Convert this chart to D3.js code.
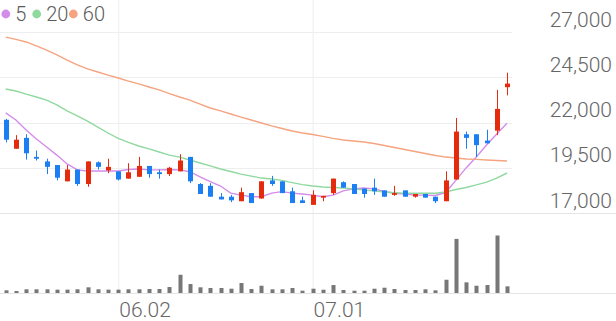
<!DOCTYPE html>
<html>
<head>
<meta charset="utf-8">
<script src="https://cdn.jsdelivr.net/npm/d3@7"></script>
<style>
  html, body { margin: 0; padding: 0; background: #fff; }
  svg { display: block; font-family: Roboto, "Noto Sans", sans-serif; }
</style>
</head>
<body>
<svg id="chart" width="616" height="321"></svg>
<script>
// trading days shown
var dates = ["05.16","05.19","05.20","05.21","05.22","05.23","05.26","05.27","05.28","05.29",
  "05.30","06.02","06.04","06.05","06.09","06.10","06.11","06.12","06.13","06.16",
  "06.17","06.18","06.19","06.20","06.23","06.24","06.25","06.26","06.27","06.30",
  "07.01","07.02","07.03","07.04","07.07","07.08","07.09","07.10","07.11","07.14",
  "07.15","07.16","07.17","07.18","07.21","07.22","07.23","07.24","07.25","07.28"];

var open  = [22150,20550,21150,20100,19850,19650,18750,19400,18600,19800,
  19350,19300,18900,19000,19600,19250,19150,19300,20100,18600,
  18500,17900,17900,17650,18100,17800,18800,18750,18200,17700,
  17450,17850,18100,18700,18600,18350,18400,18250,18000,18250,
  17900,18050,17900,17650,18850,21350,21350,21000,21550,23950];
var high  = [22200,21300,21350,20450,20000,19650,19650,19400,19850,19850,
  20000,19300,19750,20100,19600,19400,19550,20250,20100,18650,
  18650,18100,18000,18400,18100,18750,19050,18750,18400,17900,
  18250,17950,18900,18750,18600,18350,18900,18250,18500,18250,
  18050,18050,17900,19300,22250,21500,21350,21600,23800,24750];
var low   = [20900,20550,19950,19900,19150,18800,18750,18500,18450,19400,
  19200,18800,18900,19000,18950,18900,19050,19300,18650,18050,
  17900,17750,17600,17650,17550,17800,18500,18100,17550,17550,
  17450,17650,18000,18400,18050,17850,18000,17900,17950,17900,
  17850,17850,17550,17650,18850,20550,20100,20850,21300,23500];
var close = [21050,21050,20300,20000,19550,18950,19400,18600,19850,19550,
  19550,18850,19250,19600,19150,19150,19500,19900,18750,18050,
  17900,17750,17700,18150,17550,18750,18600,18100,17550,17550,
  18000,17950,18900,18400,18050,18050,18200,17900,18100,17900,
  18050,17850,17650,18800,21500,21150,20750,20850,22750,24150];

// volume, thousand shares
var volume = [54,40,74,74,74,67,67,74,114,74,
  67,67,74,74,80,80,120,366,180,114,
  100,100,86,200,80,146,74,74,100,46,
  86,66,160,60,46,46,86,106,80,60,
  60,74,54,266,1086,214,146,160,1154,134];

// moving averages
var ma5 = [22530,22140,21590,21090,20650,20200,19710,19380,19320,19320,
  19320,19320,19400,19430,19380,19380,19400,19380,19280,19000,
  18730,18490,18100,17990,17900,17900,18100,18180,18100,18050,
  17990,17900,17990,18220,18330,18380,18330,18190,18090,18050,
  17990,17990,17970,18130,18800,19490,20090,20760,21360,21960];
var ma20 = [23850,23740,23570,23410,23240,22970,22640,22360,22080,21750,
  21420,21120,20900,20700,20540,20370,20200,20090,19930,19760,
  19600,19430,19290,19150,19040,18930,18880,18800,18680,18570,
  18490,18440,18410,18380,18330,18270,18220,18160,18120,18090,
  18090,18090,18090,18160,18300,18410,18550,18710,18930,19210];
var ma60 = [26720,26590,26450,26230,26000,25730,25450,25180,24960,24790,
  24620,24460,24290,24130,23960,23800,23600,23410,23240,23020,
  22800,22640,22470,22300,22140,21970,21810,21670,21530,21420,
  21340,21230,21120,21030,20980,20920,20840,20730,20620,20510,
  20400,20290,20180,20090,20040,19980,19960,19930,19900,19870];

var priceTicks = [17000, 19500, 22000, 24500, 27000];
var dateTicks = ["06.02", "07.01"];
var maNames = ["5", "20", "60"];
var maColors = ["#d48ceb", "#8fd9a0", "#f5a47f"];

var UP = "#e52b0e", DOWN = "#1b7ef2";

var svg = d3.select("#chart");
var W = 616;
var plotRight = 512;

var x = d3.scalePoint().domain(dates).range([5.7, 507]);
var y = d3.scaleLinear().domain([17000, 27000]).range([213, 32]);
var yVol = d3.scaleLinear().domain([0, d3.max(volume)]).range([293, 235.5]);

// vertical grid at date ticks
svg.append("g").selectAll("line")
  .data(dateTicks)
  .enter().append("line")
  .attr("x1", function(d) { return x(d) + 0.5; })
  .attr("x2", function(d) { return x(d) + 0.5; })
  .attr("y1", 0).attr("y2", 293)
  .attr("stroke", "#eeeeee");

// horizontal grid
svg.append("g").selectAll("line")
  .data(priceTicks.slice(1))
  .enter().append("line")
  .attr("x1", 0).attr("x2", plotRight)
  .attr("y1", function(d) { return Math.round(y(d)) + 0.5; })
  .attr("y2", function(d) { return Math.round(y(d)) + 0.5; })
  .attr("stroke", "#eeeeee");

// panel separators
svg.append("line").attr("x1", 0).attr("x2", W)
  .attr("y1", Math.round(y(17000)) + 0.5).attr("y2", Math.round(y(17000)) + 0.5)
  .attr("stroke", "#e4e4e4");
svg.append("line").attr("x1", 0).attr("x2", W)
  .attr("y1", 293.5).attr("y2", 293.5)
  .attr("stroke", "#e4e4e4");

// right price axis
var yAxis = d3.axisRight(y).tickValues(priceTicks).tickFormat(d3.format(",")).tickSize(0);
var gy = svg.append("g").attr("transform", "translate(612,0)").call(yAxis);
gy.select(".domain").remove();
gy.selectAll("text")
  .attr("x", 0).attr("dy", "-0.28em")
  .attr("text-anchor", "end")
  .attr("fill", "#666").attr("font-size", 21).attr("font-weight", 300)
  .attr("font-family", "Roboto");

// bottom date labels, left aligned at the grid
var xAxis = d3.axisBottom(x).tickValues(dateTicks).tickSize(0);
var gx = svg.append("g").attr("transform", "translate(0,294)").call(xAxis);
gx.select(".domain").remove();
gx.selectAll("text")
  .attr("x", 0.5).attr("y", 0).attr("dy", "1.08em")
  .attr("text-anchor", "start")
  .attr("fill", "#666").attr("font-size", 21).attr("font-weight", 300)
  .attr("font-family", "Roboto");

// moving average lines
[ma5, ma20, ma60].forEach(function(series, k) {
  var line = d3.line()
    .x(function(d, i) { return x(dates[i]); })
    .y(function(d) { return y(d); });
  svg.append("path")
    .datum(series)
    .attr("d", line)
    .attr("fill", "none")
    .attr("stroke", maColors[k])
    .attr("stroke-width", 1.4);
});

// candles
var candles = svg.append("g").selectAll("g")
  .data(dates)
  .enter().append("g");

candles.append("line")
  .attr("x1", function(d) { return Math.round(x(d)) + 0.5; })
  .attr("x2", function(d) { return Math.round(x(d)) + 0.5; })
  .attr("y1", function(d, i) { return y(high[i]); })
  .attr("y2", function(d, i) { return y(low[i]); })
  .attr("stroke", function(d, i) { return close[i] >= open[i] ? UP : DOWN; })
  .attr("stroke-width", 1);

candles.append("rect")
  .attr("x", function(d) { return Math.round(x(d)) + 0.5 - 2.5; })
  .attr("width", 5)
  .attr("y", function(d, i) { return y(Math.max(open[i], close[i])); })
  .attr("height", function(d, i) {
    return Math.max(1.5, Math.abs(y(open[i]) - y(close[i])));
  })
  .attr("fill", function(d, i) { return close[i] >= open[i] ? UP : DOWN; });

// volume bars
svg.append("g").selectAll("rect")
  .data(volume)
  .enter().append("rect")
  .attr("x", function(d, i) { return Math.round(x(dates[i])) + 0.5 - 2; })
  .attr("width", 4)
  .attr("y", function(d) { return yVol(d); })
  .attr("height", function(d) { return 293 - yVol(d); })
  .attr("fill", "#777");

// legend
var legend = svg.append("g");
var legendX = [5.8, 36.7, 73.3];
maNames.forEach(function(name, k) {
  legend.append("circle")
    .attr("cx", legendX[k]).attr("cy", 14).attr("r", 4.4)
    .attr("fill", maColors[k]);
  legend.append("text")
    .attr("x", legendX[k] + 9.5).attr("y", 21)
    .attr("fill", "#5a5a5a").attr("font-size", 20).attr("font-weight", 300)
    .text(name);
});
</script>
</body>
</html>
